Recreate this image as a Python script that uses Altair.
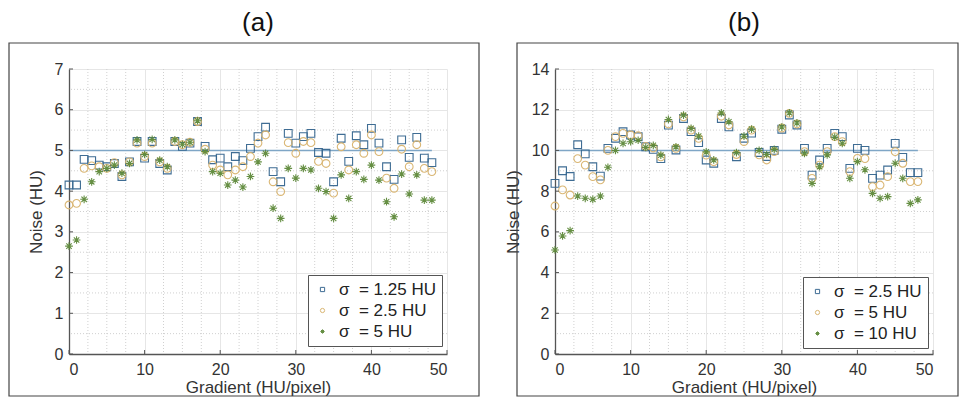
import altair as alt
import pandas as pd

# ---------------- data ----------------
gradient = list(range(49))

a_names = ["σ\u00a0\u00a0= 1.25 HU", "σ\u00a0\u00a0= 2.5 HU", "σ\u00a0\u00a0= 5 HU"]
a_sq = [4.15, 4.15, 4.78, 4.75, 4.64, 4.6, 4.68, 4.36, 4.72, 5.22, 4.81, 5.22, 4.68, 4.52, 5.22, 5.1, 5.18,
        5.71, 5.1, 4.77, 4.81, 4.6, 4.85, 4.75, 5.05, 5.34, 5.57, 4.48, 4.23, 5.42, 5.18, 5.34, 5.42, 4.95,
        4.93, 4.23, 5.3, 4.73, 5.36, 5.14, 5.54, 5.18, 4.6, 4.29, 5.26, 4.83, 5.32, 4.81, 4.7]
a_ci = [3.66, 3.7, 4.56, 4.62, 4.6, 4.56, 4.7, 4.4, 4.72, 5.18, 4.85, 5.18, 4.72, 4.56, 5.22, 5.14, 5.2,
        5.71, 5.03, 4.64, 4.52, 4.4, 4.52, 4.6, 4.85, 5.18, 5.38, 4.23, 3.99, 5.19, 4.93, 5.22, 5.19, 4.73,
        4.68, 3.95, 5.09, 4.52, 5.14, 4.93, 5.38, 4.97, 4.32, 4.07, 5.03, 4.6, 5.14, 4.56, 4.48]
a_st = [2.65, 2.8, 3.8, 4.23, 4.48, 4.56, 4.64, 4.44, 4.68, 5.26, 4.9, 5.27, 4.76, 4.6, 5.26, 5.15, 5.2,
        5.73, 4.97, 4.48, 4.44, 4.15, 4.27, 4.1, 4.36, 4.72, 4.93, 3.58, 3.33, 4.56, 4.32, 4.56, 4.52, 4.07,
        3.99, 3.33, 4.4, 3.82, 4.48, 4.29, 4.64, 4.27, 3.74, 3.37, 4.42, 3.93, 4.4, 3.78, 3.78]

b_names = ["σ\u00a0\u00a0= 2.5 HU", "σ\u00a0\u00a0= 5 HU", "σ\u00a0\u00a0= 10 HU"]
b_sq = [8.38, 9.0, 8.72, 10.28, 9.83, 9.2, 8.74, 10.1, 10.6, 10.92, 10.76, 10.67, 10.18, 10.05, 9.6, 11.24,
        10.02, 11.57, 10.92, 10.38, 9.53, 9.37, 11.57, 11.16, 9.69, 10.6, 10.85, 9.9, 9.7, 10.0, 11.04, 11.74,
        11.25, 10.1, 8.79, 9.53, 10.1, 10.84, 10.68, 9.12, 10.1, 10.0, 8.63, 8.79, 9.04, 10.35, 9.66, 8.91, 8.91]
b_ci = [7.27, 8.06, 7.81, 9.6, 9.28, 8.71, 8.55, 10.0, 10.68, 10.84, 10.76, 10.72, 10.2, 10.12, 9.68, 11.3,
        10.1, 11.65, 11.0, 10.59, 9.77, 9.45, 11.68, 11.25, 9.8, 10.43, 11.0, 9.78, 9.53, 9.94, 11.1, 11.82,
        11.3, 9.94, 8.63, 9.28, 9.94, 10.68, 10.43, 8.96, 9.61, 9.6, 8.22, 8.3, 8.71, 9.94, 9.37, 8.47, 8.47]
b_st = [5.11, 5.8, 6.06, 7.76, 7.65, 7.6, 7.76, 9.17, 10.0, 10.35, 10.43, 10.5, 10.15, 10.25, 9.77, 11.52,
        10.18, 11.73, 11.08, 10.7, 9.93, 9.53, 11.84, 11.41, 9.89, 10.7, 11.05, 10.0, 9.8, 10.05, 11.15, 11.85,
        11.35, 9.86, 8.38, 9.2, 9.78, 10.65, 10.35, 8.63, 9.45, 9.05, 7.89, 7.65, 7.73, 9.37, 8.63, 7.4, 7.57]

x_ticks = [0, 10, 20, 30, 40, 50]
x_minor = [2.5, 5, 7.5, 12.5, 15, 17.5, 22.5, 25, 27.5, 32.5, 35, 37.5, 42.5, 45, 47.5]
a_y_ticks = [0, 1, 2, 3, 4, 5, 6, 7]
a_y_minor = [0.5, 1.5, 2.5, 3.5, 4.5, 5.5, 6.5]
b_y_ticks = [0, 2, 4, 6, 8, 10, 12, 14]
b_y_minor = [1, 3, 5, 7, 9, 11, 13]

a_ref = {"g": 0, "g2": 48, "v": 5}
b_ref = {"g": 0, "g2": 48, "v": 10}

ASTERISK = "M-1,0H1M0,-1V1M-0.7,-0.7L0.7,0.7M-0.7,0.7L0.7,-0.7"
COLORS = ["#35668f", "#d9b46e", "#5e8a3a"]
FONT = "Liberation Sans"
TXT = "#333333"

W, H = 378, 285


def panel(series, names, ymax, yticks, yminor, ref, label, box, legxy):
    rows = []
    for name, vals in zip(names, series):
        for g, v in zip(gradient, vals):
            rows.append({"g": g, "v": v, "s": name})
    df = pd.DataFrame(rows)
    xs = alt.Scale(domain=[0, 50], nice=False, zero=False)
    ys = alt.Scale(domain=[0, ymax], nice=False, zero=False)
    xaxis = alt.Axis(values=x_ticks, grid=True, gridColor="#e6e6e6", ticks=False,
                     labelPadding=7, titlePadding=2, format="d")
    yaxis = alt.Axis(values=yticks, grid=True, gridColor="#e6e6e6", ticks=False,
                     labelPadding=6, titlePadding=9, format="d")

    def X(field="g"):
        return alt.X(f"{field}:Q", scale=xs, title="Gradient (HU/pixel)", axis=xaxis)

    def Y(field="v"):
        return alt.Y(f"{field}:Q", scale=ys, title="Noise (HU)", axis=yaxis)

    one = pd.DataFrame({"k": [0]})

    vminor = alt.Chart(pd.DataFrame({"g": x_minor})).mark_rule(
        color="#d0d0d0", strokeWidth=1, strokeDash=[1, 2]
    ).encode(x=X())
    hminor = alt.Chart(pd.DataFrame({"v": yminor})).mark_rule(
        color="#d0d0d0", strokeWidth=1, strokeDash=[1, 2]
    ).encode(y=Y())

    refline = alt.Chart(pd.DataFrame([ref])).mark_rule(color="#7fa6c6", strokeWidth=1.6).encode(
        x=X(), x2="g2:Q", y=Y()
    )

    leg = alt.Legend(
        title=None, orient="none", legendX=legxy[0], legendY=legxy[1],
        fillColor="white", strokeColor="#555555", padding=6,
        labelFont=FONT, labelFontSize=17, labelColor="#222222", labelLimit=300,
        symbolSize=18, symbolStrokeWidth=1, labelOffset=8, rowPadding=3,
    )
    pts = alt.Chart(df).mark_point(filled=False, size=60, strokeWidth=1.1, opacity=0.95).encode(
        x=X(),
        y=Y(),
        color=alt.Color("s:N", scale=alt.Scale(domain=names, range=COLORS), legend=leg),
        shape=alt.Shape("s:N", scale=alt.Scale(domain=names, range=["square", "circle", ASTERISK]), legend=leg),
    )

    xt = alt.Chart(pd.DataFrame({"g": x_ticks})).mark_rule(color="#555555", strokeWidth=1).encode(
        x=X(), y=alt.value(H), y2=alt.value(H - 4)
    )
    yt = alt.Chart(pd.DataFrame({"v": yticks})).mark_rule(color="#555555", strokeWidth=1).encode(
        y=Y(), x=alt.value(0), x2=alt.value(4)
    )

    frame = alt.Chart(one).mark_rect(fillOpacity=0, stroke="#444444", strokeWidth=1.2).encode(
        x=alt.value(box[0]), x2=alt.value(box[1]), y=alt.value(-26), y2=alt.value(H + 42)
    )
    ttl = alt.Chart(one).mark_text(font=FONT, fontSize=26, color="#111111", baseline="middle", align="center").encode(
        x=alt.value(W / 2), y=alt.value(-46), text=alt.value(label)
    )

    return alt.layer(vminor, hminor, refline, pts, xt, yt, frame, ttl).properties(width=W, height=H)


pa = panel([a_sq, a_ci, a_st], a_names, 7, a_y_ticks, a_y_minor, a_ref, "(a)", (-60, W + 32), (239, 206))
pb = panel([b_sq, b_ci, b_st], b_names, 14, b_y_ticks, b_y_minor, b_ref, "(b)", (-38, W + 25), (248, 208))

chart = alt.hconcat(pa, pb, spacing=24).resolve_scale(
    color="independent", shape="independent", x="independent", y="independent"
).resolve_legend(color="independent", shape="independent").properties(
    padding={"top": 2, "left": 0, "right": 0, "bottom": 0}, background="white"
).configure_view(stroke=None).configure_axis(
    domainColor="#555555", domainWidth=1.3, labelFont=FONT, titleFont=FONT,
    labelFontSize=16, titleFontSize=17, labelColor=TXT, titleColor=TXT, titleFontWeight="normal"
)

chart.save("out.html", embed_options={"renderer": "svg", "actions": False})
